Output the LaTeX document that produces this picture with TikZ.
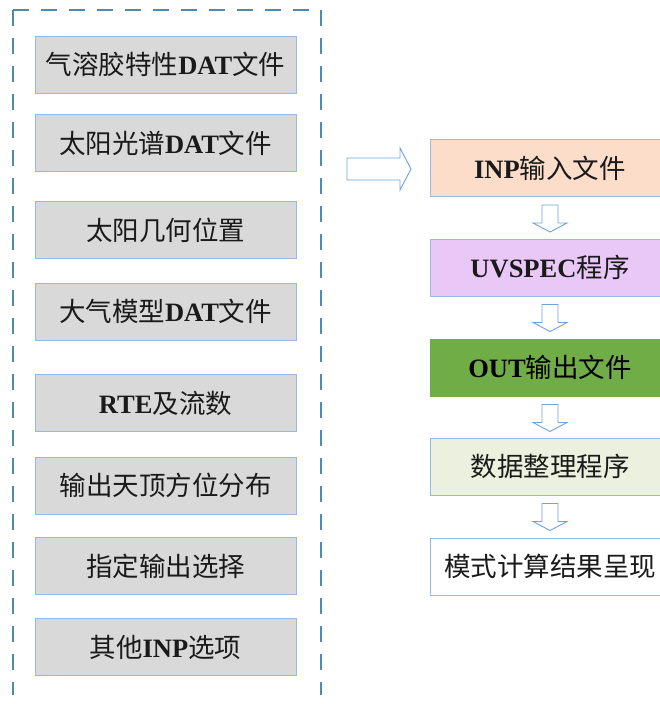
\documentclass[tikz,border=0pt]{standalone}
\usepackage{fontspec}
\setmainfont{Liberation Serif}
\newfontfamily\cjk{Noto Sans CJK SC}
\definecolor{boxline}{HTML}{95B9E3}
\definecolor{grayfill}{HTML}{D9D9D9}
\definecolor{peach}{HTML}{FBDDC9}
\definecolor{lavender}{HTML}{E9C7F7}
\definecolor{outgreen}{HTML}{70AD47}
\definecolor{lightgreen}{HTML}{EBF1DE}
\definecolor{frame}{HTML}{4F8BAE}
\definecolor{arrowline}{HTML}{6FA3DC}
\definecolor{txt}{HTML}{1A1A1A}
\newcommand{\B}[1]{{\rmfamily\bfseries #1}}
\begin{document}
\begin{tikzpicture}[x=1pt,y=-1pt,
  basebox/.style={draw=boxline, line width=1pt, rectangle, inner sep=0pt,
    minimum height=57pt, font=\cjk\fontsize{26.5}{30}\selectfont, text=txt},
  leftbox/.style={basebox, fill=grayfill, minimum width=261pt},
  rightbox/.style={basebox, minimum width=240pt},
  blockarrow/.style={draw=arrowline, line width=0.9pt, fill=white, line join=miter},
  framestyle/.style={draw=frame, line width=1.5pt, dash pattern=on 16pt off 12pt}
]
\useasboundingbox (0,0) rectangle (660,704);

% dashed frame (open at bottom)
\coordinate (fbl) at (13,695);
\coordinate (ftl) at (13,10);
\coordinate (ftr) at (321,10);
\coordinate (fbr) at (321,695);
\draw[framestyle] (ftl) -- (fbl);
\draw[framestyle] (ftl) -- (ftr);
\draw[framestyle] (ftr) -- (fbr);

% left column
\node[leftbox] (l1) at (165.5,64.5) {气溶胶特性\B{DAT}文件};
\node[leftbox] (l2) at (165.5,143) {太阳光谱\B{DAT}文件};
\node[leftbox] (l3) at (165.5,230) {太阳几何位置};
\node[leftbox] (l4) at (165.5,311.5) {大气模型\B{DAT}文件};
\node[leftbox] (l5) at (165.5,403) {\B{RTE}及流数};
\node[leftbox] (l6) at (165.5,485.5) {输出天顶方位分布};
\node[leftbox] (l7) at (165.5,566) {指定输出选择};
\node[leftbox] (l8) at (165.5,647) {其他\B{INP}选项};

% right column
\node[rightbox, fill=peach] (r1) at (550,168) {\B{INP}输入文件};
\node[rightbox, fill=lavender] (r2) at (550,267.5) {\B{UVSPEC}程序};
\node[rightbox, fill=outgreen, draw=outgreen, text=black] (r3) at (550,367.5) {\B{OUT}输出文件};
\node[rightbox, fill=lightgreen] (r4) at (550,466.5) {数据整理程序};
\node[rightbox, fill=white] (r5) at (550,566.5) {模式计算结果呈现};

% big right arrow
\coordinate (ba) at (347,169);
\draw[blockarrow] (ba) ++(0,-11) -- ++(53,0) -- ++(0,-10) -- ++(11,21)
  -- ++(-11,21) -- ++(0,-10) -- ++(-53,0) -- cycle;

% down arrows
\foreach \a/\b in {r1/r2, r2/r3, r3/r4, r4/r5}{
  \draw[blockarrow] ([yshift=-8pt]\a.south) ++(-8,0) -- ++(16,0) -- ++(0,18)
    -- ++(9,0) -- ++(-17,9) -- ++(-17,-9) -- ++(9,0) -- cycle;
}
\end{tikzpicture}
\end{document}
